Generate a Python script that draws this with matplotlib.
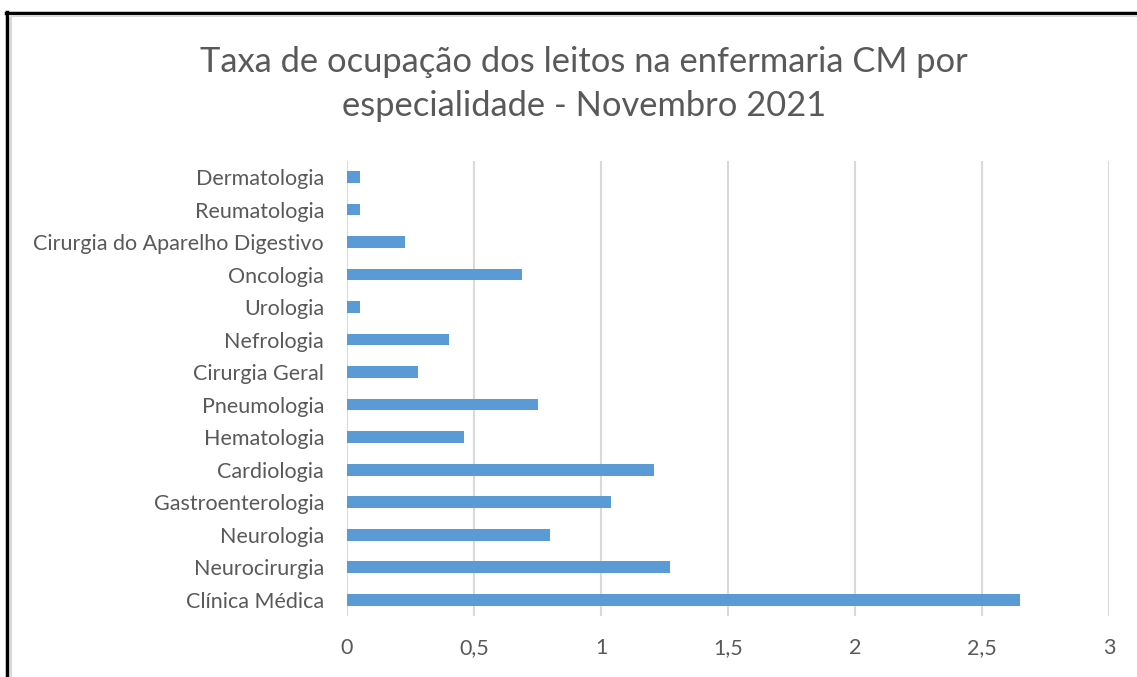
import matplotlib
matplotlib.use("Agg")
import matplotlib.pyplot as plt
from matplotlib.lines import Line2D
from matplotlib.ticker import FuncFormatter

categories = ["Clínica Médica", "Neurocirurgia", "Neurologia", "Gastroenterologia",
              "Cardiologia", "Hematologia", "Pneumologia", "Cirurgia Geral",
              "Nefrologia", "Urologia", "Oncologia", "Cirurgia do Aparelho Digestivo",
              "Reumatologia", "Dermatologia"]
values = [2.65, 1.27, 0.80, 1.04, 1.21, 0.46, 0.75, 0.28, 0.40, 0.05, 0.69, 0.23, 0.05, 0.05]
xticks = [0, 0.5, 1, 1.5, 2, 2.5, 3]
title = "Taxa de ocupação dos leitos na enfermaria CM por\nespecialidade - Novembro 2021"

W, H = 1137, 677
fig = plt.figure(figsize=(W / 100, H / 100), dpi=100)
plt.rcParams['font.family'] = ['Lato', 'DejaVu Sans']

ax = fig.add_axes([347 / W, 1 - 616 / H, (1109 - 347) / W, (616 - 160.75) / H])
ypos = list(range(len(categories)))
ax.barh(ypos, values, height=0.36, color="#5B9BD5", zorder=3)
ax.set_xlim(0, 3)
ax.set_ylim(-0.5, len(categories) - 0.5)
ax.set_xticks(xticks)
ax.xaxis.set_major_formatter(FuncFormatter(lambda v, p: ("%g" % v).replace(".", ",")))
ax.set_yticks(ypos)
ax.set_yticklabels(categories)
ax.tick_params(axis="both", length=0, labelsize=15.5, colors="#595959")
ax.tick_params(axis="x", pad=16)
ax.tick_params(axis="y", pad=16.5)
for s in ax.spines.values():
    s.set_visible(False)
ax.grid(axis="x", color="#D9D9D9", linewidth=1.5, zorder=0)
ax.set_axisbelow(True)

fig.text(584 / W, 1 - 84 / H, title, ha="center", va="center", fontsize=24.8,
         color="#595959", linespacing=1.45)

# chart frame
fig.add_artist(Line2D([7 / W, 7 / W], [0, 1 - 12 / H], color="black", lw=2.5, transform=fig.transFigure))
fig.add_artist(Line2D([6 / W, 1], [1 - 13 / H, 1 - 13 / H], color="black", lw=2.5, transform=fig.transFigure))
fig.add_artist(Line2D([10.5 / W, 10.5 / W], [0, 1 - 16 / H], color="#D9D9D9", lw=1.5, transform=fig.transFigure))
fig.add_artist(Line2D([10 / W, 1], [1 - 16 / H, 1 - 16 / H], color="#D9D9D9", lw=1.5, transform=fig.transFigure))

fig.savefig("out.png", dpi=100, facecolor="white")
